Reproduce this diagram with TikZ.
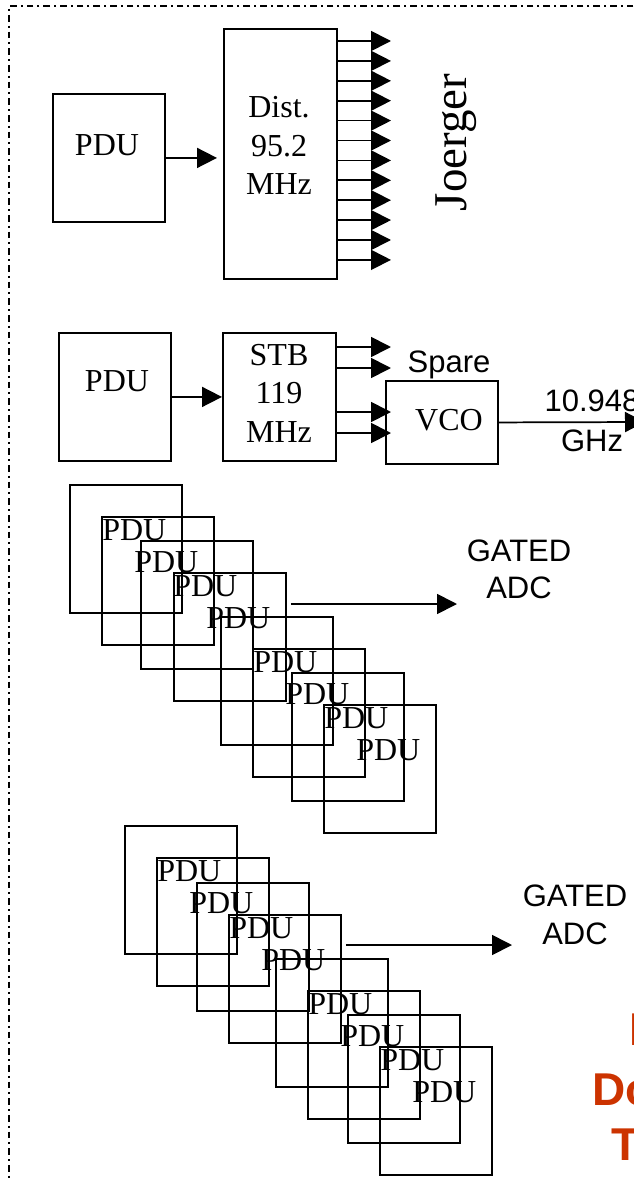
\documentclass[tikz,border=0pt]{standalone}
\usepackage{fontspec}
\setmainfont{Liberation Serif}
\setsansfont{Liberation Sans}
\usetikzlibrary{arrows.meta}
\definecolor{redtxt}{RGB}{204,51,0}
\tikzset{
  bx/.style={draw, line width=1.4pt, inner sep=0pt, minimum width=84pt, minimum height=96pt},
  tx/.style={font=\fontsize{24}{28.9}\selectfont, inner sep=0pt, align=center},
  sx/.style={font=\sffamily\fontsize{23.25}{28}\selectfont, inner sep=0pt, align=center},
  rd/.style={font=\sffamily\bfseries\fontsize{34.5}{40}\selectfont, text=redtxt, inner sep=0pt},
  arr/.style={line width=1.3pt, -{Triangle[length=15pt,width=15pt]}},
  border/.style={line width=1.2pt, dash pattern=on 5pt off 3pt on 1.5pt off 3pt}
}
\begin{document}
\begin{tikzpicture}[x=0.75pt,y=-0.75pt]
\useasboundingbox (0,0) rectangle (634,1181);
\clip (0,0) rectangle (634,1181);

% frame
\coordinate (bTL) at (9,6);
\coordinate (bTR) at (650,6);
\coordinate (bBL) at (9,1195);
\draw[border] (bTR) -- (bTL) -- (bBL);

% ---- section 1 : Joerger distribution
\node[bx, anchor=north west] (pdu1) at (52,93) {};
\node[tx, anchor=base] (pdu1t) at (107,155) {PDU};
\node[bx, anchor=north west, minimum width=84.75pt, minimum height=187.5pt] (dist) at (223,28) {};
\node[tx] (distt) at (279,145.5) {Dist.\\95.2\\MHz};
\draw[arr, shorten >=4.5pt] (pdu1.east) -- (pdu1.east -| dist.west);
\foreach \k in {0,...,11} {
  \coordinate (jo\k) at (391,{41+19.9*\k});
  \draw[arr] (dist.east |- jo\k) -- (jo\k);
}
\node[rotate=90, anchor=base, font=\fontsize{35.25}{40}\selectfont, inner sep=0pt] (joerger) at (466,142.5) {Joerger};

% ---- section 2 : STB / VCO
\node[bx, anchor=north west] (pdu2) at (58,332) {};
\node[tx, anchor=base] (pdu2t) at (117,391) {PDU};
\node[bx, anchor=north west, minimum width=84.75pt] (stb) at (222,332) {};
\node[tx] (stbt) at (279,393) {STB\\119\\MHz};
\draw[arr] (pdu2.east) -- (pdu2.east -| stb.west);
\node[bx, anchor=north west, minimum height=62.25pt] (vco) at (385,380) {};
\node[tx, anchor=base] (vcot) at (449,430) {VCO};
\foreach \k/\yy in {1/347,2/368,3/412,4/433} {
  \coordinate (st\k) at (391,\yy);
  \draw[arr] (stb.east |- st\k) -- (st\k);
}
\node[sx, anchor=base] (spare) at (449,372) {Spare};
\coordinate (ghzend) at (645,422);
\draw[arr] (vco.east) -- (ghzend);
\node[sx, font=\sffamily\fontsize{23.25}{30}\selectfont] (ghz) at (592,421) {10.948\\GHz};

% ---- section 3 : stacked PDUs
\foreach \i/\x/\y in {1/69/484, 2/101/516, 3/140/540, 4/173/572, 5/220/616, 6/252/648, 7/291/672, 8/323/704} {
  \node[bx, anchor=north west] (a\i) at (\x,\y) {};
  \node[tx, anchor=base west] (at\i) at (\x+33,\y+56) {PDU};
}
\coordinate (g1e) at (457,604);
\draw[arr, shorten <=3pt] (a4.east |- g1e) -- (g1e);
\node[sx, font=\sffamily\fontsize{23.25}{27.75}\selectfont] (gate1) at (519,569.5) {GATED\\ADC};

% ---- section 4 : stacked PDUs
\foreach \i/\x/\y in {1/124/825, 2/156/857, 3/196/882, 4/228/914, 5/275/958, 6/307/990, 7/347/1014, 8/379/1046} {
  \node[bx, anchor=north west] (b\i) at (\x,\y) {};
  \node[tx, anchor=base west] (bt\i) at (\x+33,\y+56) {PDU};
}
\coordinate (g2e) at (512,945);
\draw[arr, shorten <=3pt] (b4.east |- g2e) -- (g2e);
\node[sx, font=\sffamily\fontsize{23.25}{28.5}\selectfont] (gate2) at (575,915) {GATED\\ADC};

% ---- red title (cut off at the right edge, as in the reference)
\node[rd, anchor=base west] (r1) at (629,1045) {I};
\node[rd, anchor=base west] (r2) at (592,1105) {Do};
\node[rd, anchor=base west] (r3) at (611,1160) {T};
\end{tikzpicture}
\end{document}
